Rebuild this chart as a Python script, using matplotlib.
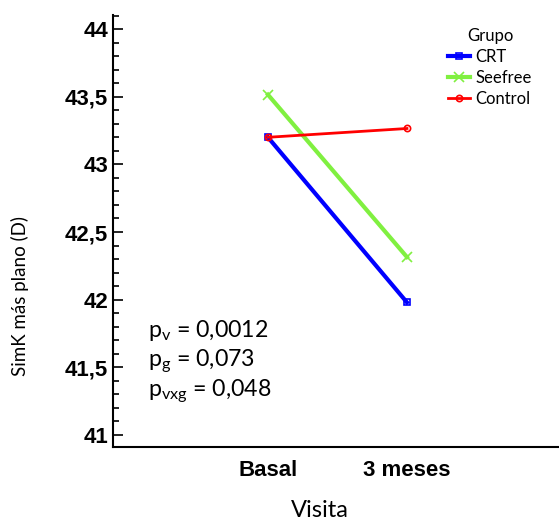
import matplotlib.pyplot as plt
from matplotlib.ticker import FixedLocator, MultipleLocator, FuncFormatter

# datos
visitas = ["Basal", "3 meses"]
crt = [43.20, 41.98]
seefree = [43.515, 42.315]
control = [43.20, 43.265]
yticks = [41, 41.5, 42, 42.5, 43, 43.5, 44]
pvals = [("v", "0,0012"), ("g", "0,073"), ("vxg", "0,048")]

plt.rcParams["mathtext.default"] = "regular"

fig = plt.figure(figsize=(5.59, 5.21), dpi=100)
ax = fig.add_axes([0.2021, 0.142, 0.7979, 0.829])

x = range(len(visitas))
ax.plot(x, crt, color="#0000ff", lw=3, marker="s", ms=4.5, mfc="none", mew=1.2, label="CRT")
ax.plot(x, seefree, color="#80f040", lw=3, marker="x", ms=7, mew=1.2, label="Seefree")
ax.plot(x, control, color="#ff0000", lw=2, marker="o", ms=4.5, mfc="none", mew=1.2, label="Control")

ax.set_xlim(-1.115, 2.094)
ax.set_ylim(40.911, 44.103)
ax.set_xticks(list(x))
ax.set_xticklabels(visitas, fontsize=16, fontweight="bold", family="Liberation Sans")
ax.tick_params(axis="x", length=0, pad=9)

ax.yaxis.set_major_locator(FixedLocator(yticks))
ax.yaxis.set_minor_locator(MultipleLocator(0.1))
ax.yaxis.set_major_formatter(FuncFormatter(lambda v, p: f"{v:g}".replace(".", ",")))
ax.tick_params(axis="y", which="major", direction="in", length=7, width=1.2, pad=3.5)
ax.tick_params(axis="y", which="minor", direction="in", length=4, width=1.2)
for lab in ax.get_yticklabels():
    lab.set_fontsize(16)
    lab.set_fontweight("bold")
    lab.set_family("Liberation Sans")

for s in ["top", "right"]:
    ax.spines[s].set_visible(False)
ax.spines["left"].set_linewidth(1.5)
ax.spines["bottom"].set_linewidth(1.5)

ax.set_xlabel("Visita", fontsize=17, family="Lato")
ax.xaxis.label.set_va("center")
ax.xaxis.set_label_coords(0.464, -0.146)
ax.set_ylabel("SimK más plano (D)", fontsize=13.5, family="Lato")
ax.yaxis.label.set_va("center")
ax.yaxis.set_label_coords(-0.208, 0.35)

# p valores
for (sub, val), yy in zip(pvals, [0.255, 0.187, 0.117]):
    ax.text(0.0785, yy, r"p$_{\mathregular{%s}}$ = %s" % (sub, val), transform=ax.transAxes,
            fontsize=16.7, family="Lato", va="baseline", ha="left")

leg = ax.legend(title="Grupo", loc="upper left", bbox_to_anchor=(0.751, 0.970), frameon=False,
                prop={"family": "Lato", "size": 12}, title_fontproperties={"family": "Lato", "size": 12},
                handlelength=1.3, handletextpad=0.36, labelspacing=0.3, borderpad=0, borderaxespad=0)

fig.savefig("out.png", dpi=100)
